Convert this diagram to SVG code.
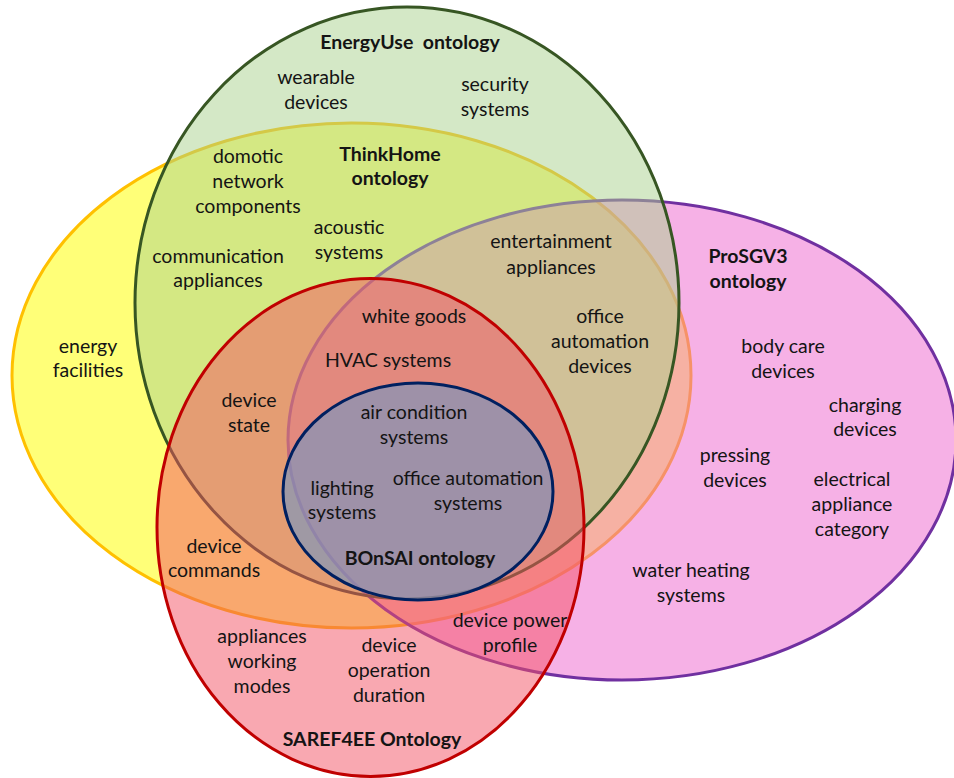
<svg xmlns="http://www.w3.org/2000/svg" width="954" height="778" viewBox="0 0 954 778">
<style>
.set{stroke-width:3}
text{font-family:Lato,"Open Sans","Liberation Sans",sans-serif;font-size:19.5px;fill:#141414;text-anchor:middle}
.t{font-weight:bold}
</style>
<rect width="954" height="778" fill="#ffffff"/>
<g id="thinkhome"><ellipse class="set" cx="351.5" cy="375.5" rx="339.5" ry="252.5" fill="#FFFF00" fill-opacity="0.53" stroke="#FFC000"/></g>
<g id="prosgv3"><ellipse class="set" cx="622" cy="440" rx="334" ry="240" fill="#ED63CD" fill-opacity="0.5" stroke="#7030A0"/></g>
<g id="energyuse"><ellipse class="set" cx="407" cy="303" rx="272" ry="296" fill="#A9D18E" fill-opacity="0.5" stroke="#375623"/></g>
<g id="saref4ee"><ellipse class="set" cx="370.5" cy="527.5" rx="213.5" ry="249" fill="#F35264" fill-opacity="0.5" stroke="#C00000"/></g>
<g id="bonsai"><ellipse class="set" cx="418" cy="491.5" rx="135" ry="108.5" fill="#7196C5" fill-opacity="0.6" stroke="#002060"/></g>
<g id="connectors"/>
<g id="labels">
<text class="t" x="410" y="49" xml:space="preserve">EnergyUse  ontology</text>
<text x="316" y="84">wearable</text><text x="316" y="109">devices</text>
<text x="495" y="91">security</text><text x="495" y="116">systems</text>
<text x="248" y="163">domotic</text><text x="248" y="188">network</text><text x="248" y="213">components</text>
<text class="t" x="390" y="161">ThinkHome</text><text class="t" x="390" y="185">ontology</text>
<text x="349" y="234">acoustic</text><text x="349" y="259">systems</text>
<text x="218" y="263">communication</text><text x="218" y="287">appliances</text>
<text x="88" y="353">energy</text><text x="88" y="377">facilities</text>
<text x="551" y="248">entertainment</text><text x="551" y="274">appliances</text>
<text class="t" x="748" y="263">ProSGV3</text><text class="t" x="748" y="288">ontology</text>
<text x="600" y="323">office</text><text x="600" y="348">automation</text><text x="600" y="373">devices</text>
<text x="783" y="353">body care</text><text x="783" y="378">devices</text>
<text x="414" y="323">white goods</text>
<text x="388" y="367">HVAC systems</text>
<text x="249" y="407">device</text><text x="249" y="432">state</text>
<text x="414" y="419">air condition</text><text x="414" y="444">systems</text>
<text x="342" y="495">lighting</text><text x="342" y="519">systems</text>
<text x="468" y="485">office automation</text><text x="468" y="510">systems</text>
<text class="t" x="420" y="565">BOnSAI ontology</text>
<text x="214" y="553">device</text><text x="214" y="577">commands</text>
<text x="262" y="643">appliances</text><text x="262" y="668">working</text><text x="262" y="693">modes</text>
<text x="389" y="652">device</text><text x="389" y="677">operation</text><text x="389" y="702">duration</text>
<text x="510" y="627">device power</text><text x="510" y="652">profile</text>
<text class="t" x="372" y="746">SAREF4EE Ontology</text>
<text x="735" y="462">pressing</text><text x="735" y="487">devices</text>
<text x="865" y="412">charging</text><text x="865" y="436">devices</text>
<text x="852" y="486">electrical</text><text x="852" y="511">appliance</text><text x="852" y="536">category</text>
<text x="691" y="577">water heating</text><text x="691" y="602">systems</text>
</g>
</svg>
